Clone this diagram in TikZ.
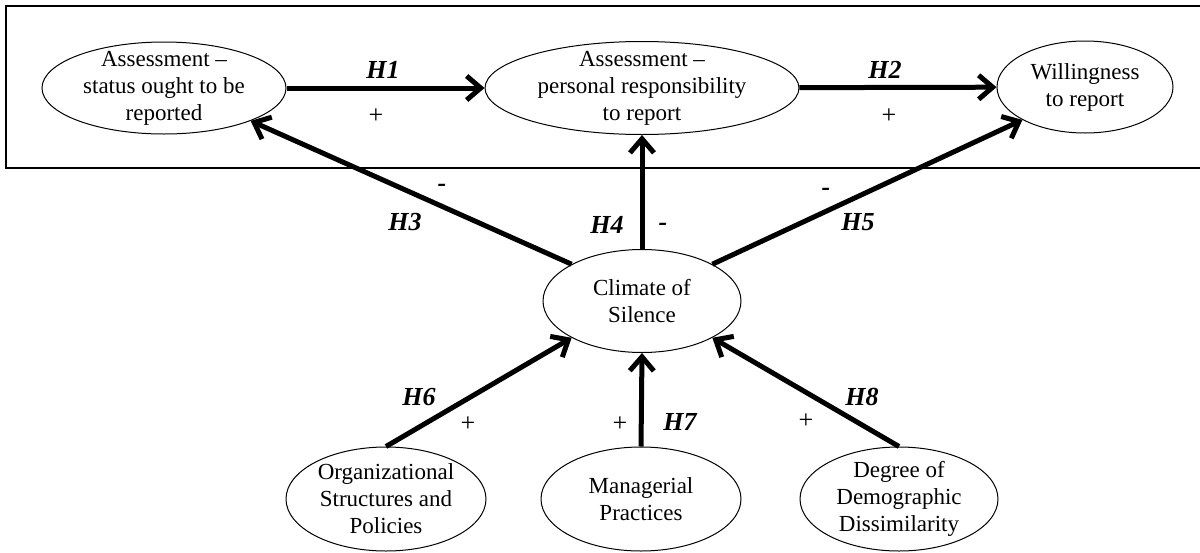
\documentclass[tikz,border=0pt]{standalone}
\usepackage{fontspec}
\setmainfont{Liberation Serif}
\usepackage{tikz}
\usetikzlibrary{shapes.geometric, arrows.meta}

\tikzset{
  oval/.style={draw, ellipse, line width=0.5pt, inner xsep=-4pt, inner ysep=-12pt, align=center, font=\fontsize{11.5}{13.5}\selectfont},
  hyp/.style={font=\fontsize{13}{15}\selectfont\bfseries\itshape},
  sgn/.style={font=\fontsize{13}{15}\selectfont},
  link/.style={line width=2.5pt, -{Straight Barb[length=7pt, width=12pt]}}
}

\begin{document}
\begin{tikzpicture}[x=0.5pt, y=-0.5pt]
  \useasboundingbox (0, 0) rectangle (1200, 552);

  % Frame round the assessments
  \draw[line width=0.6pt] (6, 6) rectangle (1215, 168);

  % Top row
  \node[oval, minimum width=122pt, minimum height=46pt] (status) at (164, 88) {Assessment --\\status ought to be\\reported};
  \node[oval, minimum width=157pt, minimum height=46.5pt] (respons) at (642, 88) {Assessment --\\personal responsibility\\to report};
  \node[oval, minimum width=88pt, minimum height=46pt] (willing) at (1085, 87) {Willingness\\to report};

  % Climate of silence
  \node[oval, minimum width=99pt, minimum height=51.5pt] (climate) at (642, 301) {Climate of\\Silence};

  % Antecedents
  \node[oval, minimum width=100pt, minimum height=52pt] (orgstruct) at (386, 499) {Organizational\\Structures and\\Policies};
  \node[oval, minimum width=100pt, minimum height=52pt] (managerial) at (641, 499) {Managerial\\Practices};
  \node[oval, minimum width=99pt, minimum height=52pt] (demog) at (899, 499) {Degree of\\Demographic\\Dissimilarity};

  % Hypotheses
  \draw[link] (status) -- (respons);
  \draw[link] (respons) -- (willing);
  \draw[link] (climate.north west) -- (status.south east);
  \draw[link] (climate.north) -- (respons.south);
  \draw[link] (climate.north east) -- (willing.south west);
  \draw[link] (orgstruct.north) -- (climate.south west);
  \draw[link] (managerial.north) -- (climate.south);
  \draw[link] (demog.north) -- (climate.south east);

  % Labels
  \node[hyp] (h1) at (383, 70) {H1};
  \node[sgn] (s1) at (376, 116) {+};
  \node[hyp] (h2) at (885, 70) {H2};
  \node[sgn] (s2) at (889, 116) {+};
  \node[hyp] (h3) at (405, 222) {H3};
  \node[hyp] (s3) at (442, 188) {-};
  \node[hyp] (h4) at (607, 225) {H4};
  \node[hyp] (s4) at (663, 227) {-};
  \node[hyp] (h5) at (858, 222) {H5};
  \node[hyp] (s5) at (826, 192) {-};
  \node[hyp] (h6) at (419, 397) {H6};
  \node[sgn] (s6) at (468, 424) {+};
  \node[hyp] (h7) at (680, 422) {H7};
  \node[sgn] (s7) at (620, 424) {+};
  \node[hyp] (h8) at (862, 397) {H8};
  \node[sgn] (s8) at (806, 421) {+};
\end{tikzpicture}
\end{document}
